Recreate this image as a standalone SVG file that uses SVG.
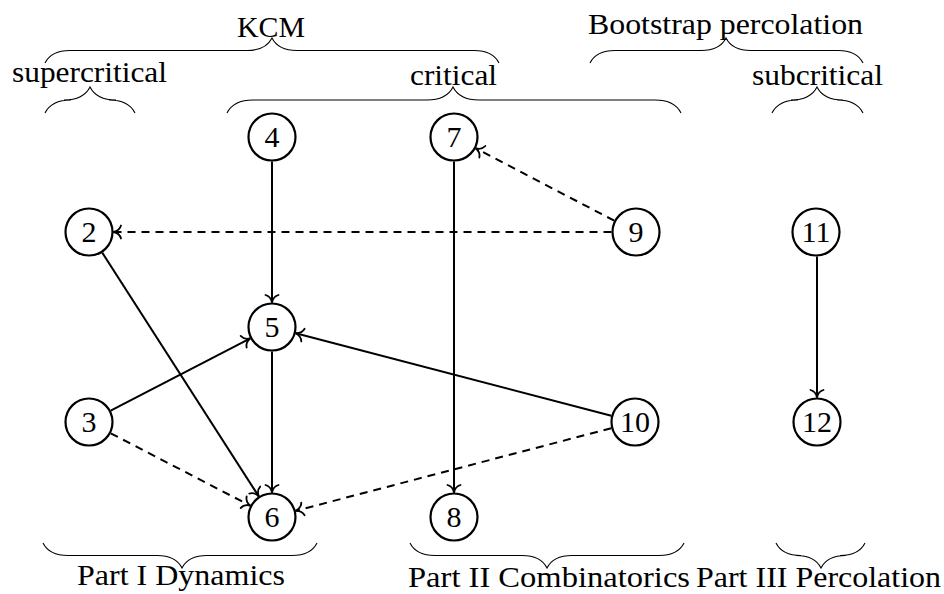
<svg xmlns="http://www.w3.org/2000/svg" width="944" height="594" viewBox="0 0 944 594">
<style>
.node circle{fill:#fff;stroke:#000;stroke-width:2.2}
.node text{font-family:"Liberation Serif",serif;font-size:30px;text-anchor:middle;fill:#000}
.lbl{font-family:"Liberation Serif",serif;font-size:30px;text-anchor:middle;fill:#000}
.brace{fill:none;stroke:#000;stroke-width:1.1}
.e{fill:none;stroke:#000;stroke-width:2;marker-end:url(#to)}
.d{stroke-dasharray:8 6}
</style>
<defs>
<marker id="to" viewBox="-10 -10 20 20" refX="0" refY="0" markerWidth="20" markerHeight="20" markerUnits="userSpaceOnUse" orient="auto" overflow="visible">
<path d="M-7.5,-6.5 C-6.5,-2.8 -2.8,-0.6 0,0 C-2.8,0.6 -6.5,2.8 -7.5,6.5" fill="none" stroke="#000" stroke-width="1.8" stroke-dasharray="none" stroke-linecap="round"/>
</marker>
</defs>

<g id="braces">
<path class="brace" d="M45,63 C48.75,55.5 57.5,50.5 70,50.5 L247,50.5 C259.5,50.5 268.25,45.5 272,38 C275.75,45.5 284.5,50.5 297,50.5 L474,50.5 C486.5,50.5 495.25,55.5 499,63"/>
<path class="brace" d="M590,63 C593.75,55.5 602.5,50.5 615,50.5 L701,50.5 C713.5,50.5 722.25,45.5 726,38 C729.75,45.5 738.5,50.5 751,50.5 L838,50.5 C850.5,50.5 859.25,55.5 863,63"/>
<path class="brace" d="M45,113 C48.9,105.2 58,100 71,100 L64,100 C77,100 86.1,94.8 90,87 C93.9,94.8 103,100 116,100 L109,100 C122,100 131.1,105.2 135,113"/>
<path class="brace" d="M227,113 C230.9,105.2 240,100 253,100 L427,100 C440,100 449.1,94.8 453,87 C456.9,94.8 466,100 479,100 L655,100 C668,100 677.1,105.2 681,113"/>
<path class="brace" d="M772,113 C775.9,105.2 785,100 798,100 L791,100 C804,100 813.1,94.8 817,87 C820.9,94.8 830,100 843,100 L837,100 C850,100 859.1,105.2 863,113"/>
<path class="brace" d="M43,543 C46.75,550.5 55.5,555.5 68,555.5 L157,555.5 C169.5,555.5 178.25,560.5 182,568 C185.75,560.5 194.5,555.5 207,555.5 L292,555.5 C304.5,555.5 313.25,550.5 317,543"/>
<path class="brace" d="M410,543 C413.75,550.5 422.5,555.5 435,555.5 L522,555.5 C534.5,555.5 543.25,560.5 547,568 C550.75,560.5 559.5,555.5 572,555.5 L659,555.5 C671.5,555.5 680.25,550.5 684,543"/>
<path class="brace" d="M776,543 C779.75,550.5 788.5,555.5 801,555.5 L796,555.5 C808.5,555.5 817.25,560.5 821,568 C824.75,560.5 833.5,555.5 846,555.5 L840,555.5 C852.5,555.5 861.25,550.5 865,543"/>
</g>

<g id="labels">
<text class="lbl" x="271" y="37" textLength="68" lengthAdjust="spacingAndGlyphs">KCM</text>
<text class="lbl" x="725.5" y="34" textLength="275" lengthAdjust="spacingAndGlyphs">Bootstrap percolation</text>
<text class="lbl" x="89.5" y="82" textLength="155" lengthAdjust="spacingAndGlyphs">supercritical</text>
<text class="lbl" x="453.5" y="85" textLength="87" lengthAdjust="spacingAndGlyphs">critical</text>
<text class="lbl" x="817.5" y="85" textLength="131" lengthAdjust="spacingAndGlyphs">subcritical</text>
<text class="lbl" x="181" y="585" textLength="208" lengthAdjust="spacingAndGlyphs">Part I Dynamics</text>
<text class="lbl" x="549" y="587" textLength="282" lengthAdjust="spacingAndGlyphs">Part II Combinatorics</text>
<text class="lbl" x="818.5" y="587" textLength="245" lengthAdjust="spacingAndGlyphs">Part III Percolation</text>
</g>

<g id="connectors">
<line class="e" x1="272" y1="161.5" x2="272" y2="302.5"/>
<line class="e" x1="272" y1="351.5" x2="272" y2="492.5"/>
<line class="e" x1="454" y1="161.5" x2="454" y2="492.5"/>
<line class="e" x1="817" y1="256.5" x2="817" y2="397.5"/>
<line class="e d" x1="611.5" y1="232" x2="113.5" y2="232"/>
<line class="e d" x1="614.3" y1="220.7" x2="475.7" y2="148.3"/>
<line class="e" x1="102.2" y1="252.6" x2="258.8" y2="496.4"/>
<line class="e" x1="110.7" y1="410.7" x2="250.3" y2="338.3"/>
<line class="e d" x1="110.7" y1="433.3" x2="250.3" y2="505.7"/>
<line class="e" x1="611.3" y1="415.8" x2="295.7" y2="333.2"/>
<line class="e d" x1="611.3" y1="428.2" x2="295.7" y2="510.8"/>
</g>

<g id="n2" class="node"><circle cx="89" cy="232" r="23.5"/><text x="89" y="242">2</text></g>
<g id="n3" class="node"><circle cx="89" cy="422" r="23.5"/><text x="89" y="432">3</text></g>
<g id="n4" class="node"><circle cx="272" cy="137" r="23.5"/><text x="272" y="147">4</text></g>
<g id="n5" class="node"><circle cx="272" cy="327" r="23.5"/><text x="272" y="337">5</text></g>
<g id="n6" class="node"><circle cx="272" cy="517" r="23.5"/><text x="272" y="527">6</text></g>
<g id="n7" class="node"><circle cx="454" cy="137" r="23.5"/><text x="454" y="147">7</text></g>
<g id="n8" class="node"><circle cx="454" cy="517" r="23.5"/><text x="454" y="527">8</text></g>
<g id="n9" class="node"><circle cx="636" cy="232" r="23.5"/><text x="636" y="242">9</text></g>
<g id="n10" class="node"><circle cx="635" cy="422" r="23.5"/><text x="635" y="432">10</text></g>
<g id="n11" class="node"><circle cx="816" cy="232" r="23.5"/><text x="816" y="242">11</text></g>
<g id="n12" class="node"><circle cx="817" cy="422" r="23.5"/><text x="817" y="432">12</text></g>
</svg>
